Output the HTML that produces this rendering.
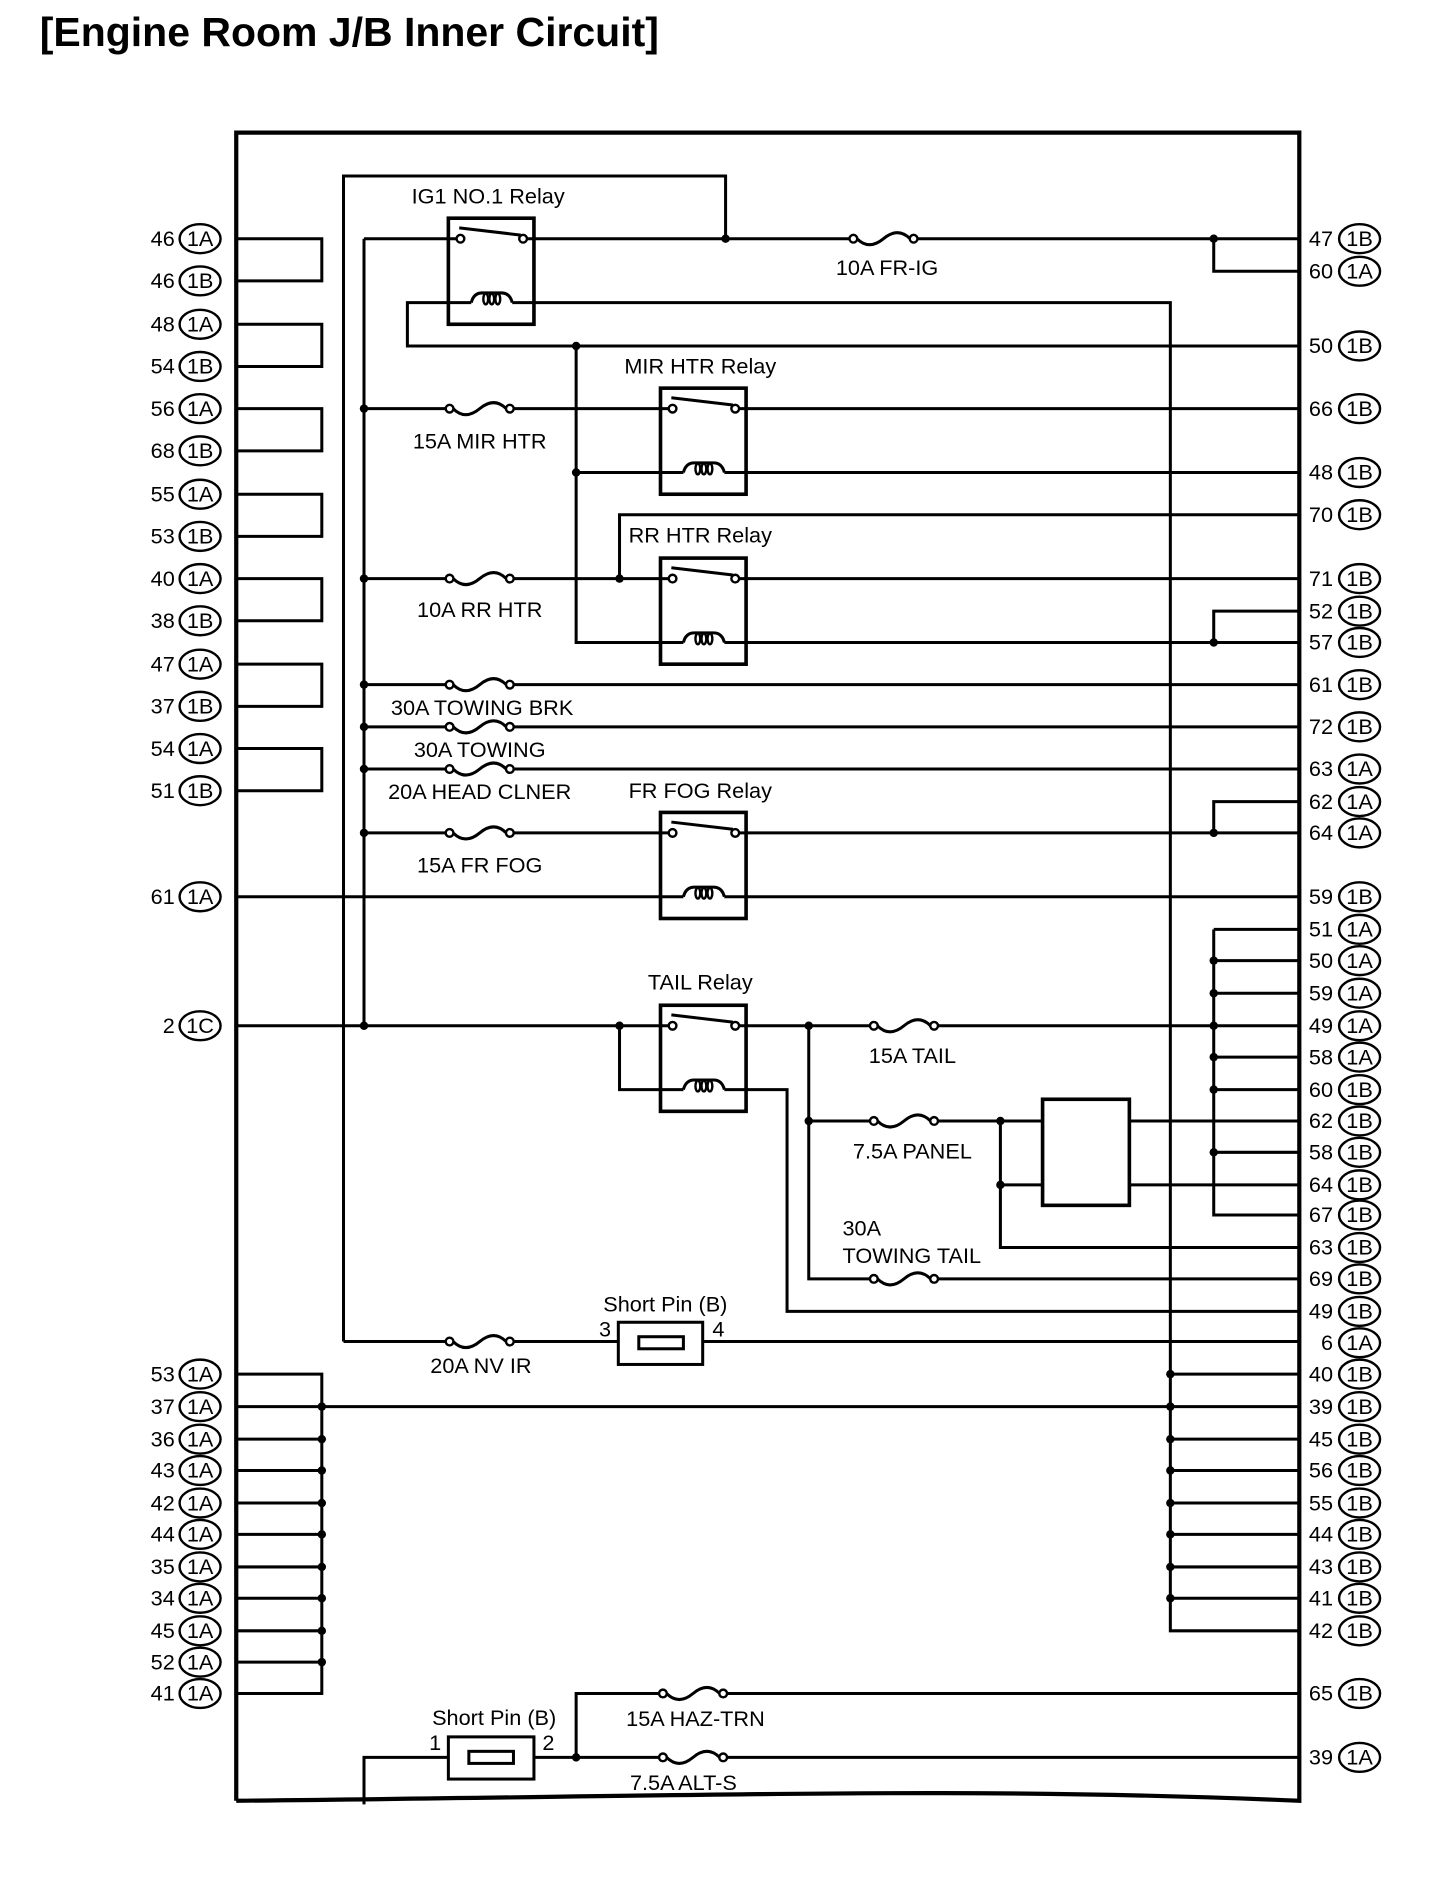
<!DOCTYPE html>
<html><head><meta charset="utf-8"><style>html,body{margin:0;padding:0;background:#fff}svg{display:block}text{font-family:"Liberation Sans",sans-serif;font-size:18px;fill:#000}</style></head><body>
<svg width="1456" height="1890" viewBox="0 0 1208 1568" xmlns="http://www.w3.org/2000/svg">
<defs>
<g id="f"><rect x="-25" y="-4" width="50" height="8" fill="#fff"/><path d="M-22,0 Q-12,10 0,0 Q12,-10 22,0" fill="none" stroke="#000" stroke-width="2.5"/><circle cx="-25" cy="0" r="3.2" fill="#fff" stroke="#000" stroke-width="2"/><circle cx="25" cy="0" r="3.2" fill="#fff" stroke="#000" stroke-width="2"/></g>
<g id="r"><rect x="0" y="0" width="71" height="88" fill="#fff" stroke="#000" stroke-width="3"/><path d="M0,17H7M65,17H71M0,70H19M53,70H71M9,8L60,14" stroke="#000" stroke-width="2.5" fill="none"/><circle cx="10" cy="17" r="3.2" fill="#fff" stroke="#000" stroke-width="2"/><circle cx="62" cy="17" r="3.2" fill="#fff" stroke="#000" stroke-width="2"/><path d="M19,70 Q21,62 28,62 L44,62 Q51,62 53,70" fill="none" stroke="#000" stroke-width="2.5"/><ellipse cx="31" cy="67" rx="2" ry="4.5" fill="none" stroke="#000" stroke-width="2"/><ellipse cx="36" cy="67" rx="2" ry="4.5" fill="none" stroke="#000" stroke-width="2"/><ellipse cx="41" cy="67" rx="2" ry="4.5" fill="none" stroke="#000" stroke-width="2"/></g>
</defs>
<text x="33" y="38" style="font-size:34px;font-weight:bold">[Engine Room J/B Inner Circuit]</text>
<path d="M196,1494 V110 H1078 V1494 C800,1482 600,1490 196,1494" fill="none" stroke="#000" stroke-width="3.5"/>
<g fill="none" stroke="#000" stroke-width="2.5">
<path d="M285,1113 V146 H602 V198 M302,198 V851 M302,198 H372 M443,198 H1078 M1007,198 V225 H1078"/>
<path d="M372,251 H338 V287 H1078 M443,251 H971 V1353 H1078"/>
<path d="M478,287 V533 H548 M619,533 H1078 M1007,533 V507 H1078"/>
<path d="M302,339 H548 M619,339 H1078 M478,392 H548 M619,392 H1078 M1078,427 H514 V480"/>
<path d="M302,480 H548 M619,480 H1078 M302,568 H1078 M302,603 H1078 M302,638 H1078"/>
<path d="M302,691 H548 M619,691 H1078 M1007,691 V665 H1078 M196,744 H548 M619,744 H1078"/>
<path d="M196,851 H548 M619,851 H1078 M514,851 V904 H548 M619,904 H653 V1088 H1078"/>
<path d="M1007,771 H1078 M1007,771 V1008 H1078 M1007,797H1078 M1007,824H1078 M1007,877H1078 M1007,904H1078 M1007,956H1078"/>
<path d="M671,851 V1061 H1078 M671,930 H865 M830,930 V1035 H1078 M830,983 H865 M937,930 H1078 M937,983 H1078"/>
<path d="M285,1113 H513 M583,1113 H1078"/>
<path d="M971,1140H1078 M971,1194H1078 M971,1220H1078 M971,1247H1078 M971,1273H1078 M971,1300H1078 M971,1326H1078 M196,1167 H1078"/>
<path d="M196,1140 H267 V1405 H196 M196,1194H267 M196,1220H267 M196,1247H267 M196,1273H267 M196,1300H267 M196,1326H267 M196,1353H267 M196,1379H267"/>
<path d="M196,198H267V233H196 M196,269H267V304H196 M196,339H267V374H196 M196,410H267V445H196 M196,480H267V515H196 M196,551H267V586H196 M196,621H267V656H196"/>
<path d="M1078,1405 H478 V1458 M1078,1458 H443 M372,1458 H302 V1497"/>
</g>
<rect x="865" y="912" width="72" height="88" fill="#fff" stroke="#000" stroke-width="3"/>
<g fill="none" stroke="#000" stroke-width="2.5"><rect x="513" y="1097" width="70" height="35"/><rect x="530" y="1109" width="37" height="10"/><rect x="372" y="1441" width="71" height="35"/><rect x="389" y="1453" width="37" height="10"/></g>
<use href="#r" x="372" y="181"/><use href="#r" x="548" y="322"/><use href="#r" x="548" y="463"/><use href="#r" x="548" y="674"/><use href="#r" x="548" y="834"/>
<use href="#f" x="733" y="198"/><use href="#f" x="398" y="339"/><use href="#f" x="398" y="480"/><use href="#f" x="398" y="568"/><use href="#f" x="398" y="603"/><use href="#f" x="398" y="638"/><use href="#f" x="398" y="691"/><use href="#f" x="750" y="851"/><use href="#f" x="750" y="930"/><use href="#f" x="750" y="1061"/><use href="#f" x="398" y="1113"/><use href="#f" x="575" y="1405"/><use href="#f" x="575" y="1458"/>
<g fill="#000">
<circle cx="602" cy="198" r="3.5"/><circle cx="1007" cy="198" r="3.5"/><circle cx="302" cy="339" r="3.5"/><circle cx="478" cy="287" r="3.5"/><circle cx="478" cy="392" r="3.5"/><circle cx="302" cy="480" r="3.5"/><circle cx="514" cy="480" r="3.5"/><circle cx="1007" cy="533" r="3.5"/><circle cx="302" cy="568" r="3.5"/><circle cx="302" cy="603" r="3.5"/><circle cx="302" cy="638" r="3.5"/><circle cx="302" cy="691" r="3.5"/><circle cx="1007" cy="691" r="3.5"/><circle cx="302" cy="851" r="3.5"/><circle cx="514" cy="851" r="3.5"/><circle cx="671" cy="851" r="3.5"/><circle cx="671" cy="930" r="3.5"/><circle cx="830" cy="930" r="3.5"/><circle cx="830" cy="983" r="3.5"/>
<circle cx="1007" cy="797" r="3.5"/><circle cx="1007" cy="824" r="3.5"/><circle cx="1007" cy="851" r="3.5"/><circle cx="1007" cy="877" r="3.5"/><circle cx="1007" cy="904" r="3.5"/><circle cx="1007" cy="956" r="3.5"/><circle cx="478" cy="1458" r="3.5"/>
<circle cx="267" cy="1167" r="3.5"/><circle cx="267" cy="1194" r="3.5"/><circle cx="267" cy="1220" r="3.5"/><circle cx="267" cy="1247" r="3.5"/><circle cx="267" cy="1273" r="3.5"/><circle cx="267" cy="1300" r="3.5"/><circle cx="267" cy="1326" r="3.5"/><circle cx="267" cy="1353" r="3.5"/><circle cx="267" cy="1379" r="3.5"/>
<circle cx="971" cy="1140" r="3.5"/><circle cx="971" cy="1167" r="3.5"/><circle cx="971" cy="1194" r="3.5"/><circle cx="971" cy="1220" r="3.5"/><circle cx="971" cy="1247" r="3.5"/><circle cx="971" cy="1273" r="3.5"/><circle cx="971" cy="1300" r="3.5"/><circle cx="971" cy="1326" r="3.5"/>
</g>
<g text-anchor="middle">
<text x="405" y="169">IG1 NO.1 Relay</text><text x="736" y="228">10A FR-IG</text><text x="581" y="310">MIR HTR Relay</text><text x="398" y="372">15A MIR HTR</text><text x="581" y="450">RR HTR Relay</text><text x="398" y="512">10A RR HTR</text><text x="400" y="593">30A TOWING BRK</text><text x="398" y="628">30A TOWING</text><text x="398" y="663">20A HEAD CLNER</text><text x="581" y="662">FR FOG Relay</text><text x="398" y="724">15A FR FOG</text><text x="581" y="821">TAIL Relay</text><text x="757" y="882">15A TAIL</text><text x="757" y="961">7.5A PANEL</text><text x="552" y="1088">Short Pin (B)</text><text x="502" y="1109">3</text><text x="596" y="1109">4</text><text x="399" y="1139">20A NV IR</text><text x="410" y="1431">Short Pin (B)</text><text x="361" y="1452">1</text><text x="455" y="1452">2</text><text x="577" y="1432">15A HAZ-TRN</text><text x="567" y="1485">7.5A ALT-S</text>
</g>
<text x="699" y="1025">30A</text><text x="699" y="1048">TOWING TAIL</text>
<g text-anchor="end">
<text x="145" y="204">46</text><text x="145" y="239">46</text><text x="145" y="275">48</text><text x="145" y="310">54</text><text x="145" y="345">56</text><text x="145" y="380">68</text><text x="145" y="416">55</text><text x="145" y="451">53</text><text x="145" y="486">40</text><text x="145" y="521">38</text><text x="145" y="557">47</text><text x="145" y="592">37</text><text x="145" y="627">54</text><text x="145" y="662">51</text><text x="145" y="750">61</text><text x="145" y="857">2</text>
<text x="145" y="1146">53</text><text x="145" y="1173">37</text><text x="145" y="1200">36</text><text x="145" y="1226">43</text><text x="145" y="1253">42</text><text x="145" y="1279">44</text><text x="145" y="1306">35</text><text x="145" y="1332">34</text><text x="145" y="1359">45</text><text x="145" y="1385">52</text><text x="145" y="1411">41</text>
<text x="1106" y="204">47</text><text x="1106" y="231">60</text><text x="1106" y="293">50</text><text x="1106" y="345">66</text><text x="1106" y="398">48</text><text x="1106" y="433">70</text><text x="1106" y="486">71</text><text x="1106" y="513">52</text><text x="1106" y="539">57</text><text x="1106" y="574">61</text><text x="1106" y="609">72</text><text x="1106" y="644">63</text><text x="1106" y="671">62</text><text x="1106" y="697">64</text><text x="1106" y="750">59</text><text x="1106" y="777">51</text><text x="1106" y="803">50</text><text x="1106" y="830">59</text><text x="1106" y="857">49</text><text x="1106" y="883">58</text><text x="1106" y="910">60</text><text x="1106" y="936">62</text><text x="1106" y="962">58</text><text x="1106" y="989">64</text><text x="1106" y="1014">67</text><text x="1106" y="1041">63</text><text x="1106" y="1067">69</text><text x="1106" y="1094">49</text><text x="1106" y="1120">6</text><text x="1106" y="1146">40</text><text x="1106" y="1173">39</text><text x="1106" y="1200">45</text><text x="1106" y="1226">56</text><text x="1106" y="1253">55</text><text x="1106" y="1279">44</text><text x="1106" y="1306">43</text><text x="1106" y="1332">41</text><text x="1106" y="1359">42</text><text x="1106" y="1411">65</text><text x="1106" y="1464">39</text>
</g>
<g fill="#fff" stroke="#000" stroke-width="2">
<ellipse cx="166" cy="198" rx="17" ry="12"/><ellipse cx="166" cy="233" rx="17" ry="12"/><ellipse cx="166" cy="269" rx="17" ry="12"/><ellipse cx="166" cy="304" rx="17" ry="12"/><ellipse cx="166" cy="339" rx="17" ry="12"/><ellipse cx="166" cy="374" rx="17" ry="12"/><ellipse cx="166" cy="410" rx="17" ry="12"/><ellipse cx="166" cy="445" rx="17" ry="12"/><ellipse cx="166" cy="480" rx="17" ry="12"/><ellipse cx="166" cy="515" rx="17" ry="12"/><ellipse cx="166" cy="551" rx="17" ry="12"/><ellipse cx="166" cy="586" rx="17" ry="12"/><ellipse cx="166" cy="621" rx="17" ry="12"/><ellipse cx="166" cy="656" rx="17" ry="12"/><ellipse cx="166" cy="744" rx="17" ry="12"/><ellipse cx="166" cy="851" rx="17" ry="12"/>
<ellipse cx="166" cy="1140" rx="17" ry="12"/><ellipse cx="166" cy="1167" rx="17" ry="12"/><ellipse cx="166" cy="1194" rx="17" ry="12"/><ellipse cx="166" cy="1220" rx="17" ry="12"/><ellipse cx="166" cy="1247" rx="17" ry="12"/><ellipse cx="166" cy="1273" rx="17" ry="12"/><ellipse cx="166" cy="1300" rx="17" ry="12"/><ellipse cx="166" cy="1326" rx="17" ry="12"/><ellipse cx="166" cy="1353" rx="17" ry="12"/><ellipse cx="166" cy="1379" rx="17" ry="12"/><ellipse cx="166" cy="1405" rx="17" ry="12"/>
<ellipse cx="1128" cy="198" rx="17" ry="12"/><ellipse cx="1128" cy="225" rx="17" ry="12"/><ellipse cx="1128" cy="287" rx="17" ry="12"/><ellipse cx="1128" cy="339" rx="17" ry="12"/><ellipse cx="1128" cy="392" rx="17" ry="12"/><ellipse cx="1128" cy="427" rx="17" ry="12"/><ellipse cx="1128" cy="480" rx="17" ry="12"/><ellipse cx="1128" cy="507" rx="17" ry="12"/><ellipse cx="1128" cy="533" rx="17" ry="12"/><ellipse cx="1128" cy="568" rx="17" ry="12"/><ellipse cx="1128" cy="603" rx="17" ry="12"/><ellipse cx="1128" cy="638" rx="17" ry="12"/><ellipse cx="1128" cy="665" rx="17" ry="12"/><ellipse cx="1128" cy="691" rx="17" ry="12"/><ellipse cx="1128" cy="744" rx="17" ry="12"/><ellipse cx="1128" cy="771" rx="17" ry="12"/><ellipse cx="1128" cy="797" rx="17" ry="12"/><ellipse cx="1128" cy="824" rx="17" ry="12"/><ellipse cx="1128" cy="851" rx="17" ry="12"/><ellipse cx="1128" cy="877" rx="17" ry="12"/><ellipse cx="1128" cy="904" rx="17" ry="12"/><ellipse cx="1128" cy="930" rx="17" ry="12"/><ellipse cx="1128" cy="956" rx="17" ry="12"/><ellipse cx="1128" cy="983" rx="17" ry="12"/><ellipse cx="1128" cy="1008" rx="17" ry="12"/><ellipse cx="1128" cy="1035" rx="17" ry="12"/><ellipse cx="1128" cy="1061" rx="17" ry="12"/><ellipse cx="1128" cy="1088" rx="17" ry="12"/><ellipse cx="1128" cy="1114" rx="17" ry="12"/><ellipse cx="1128" cy="1140" rx="17" ry="12"/><ellipse cx="1128" cy="1167" rx="17" ry="12"/><ellipse cx="1128" cy="1194" rx="17" ry="12"/><ellipse cx="1128" cy="1220" rx="17" ry="12"/><ellipse cx="1128" cy="1247" rx="17" ry="12"/><ellipse cx="1128" cy="1273" rx="17" ry="12"/><ellipse cx="1128" cy="1300" rx="17" ry="12"/><ellipse cx="1128" cy="1326" rx="17" ry="12"/><ellipse cx="1128" cy="1353" rx="17" ry="12"/><ellipse cx="1128" cy="1405" rx="17" ry="12"/><ellipse cx="1128" cy="1458" rx="17" ry="12"/>
</g>
<g text-anchor="middle">
<text x="166" y="204">1A</text><text x="166" y="239">1B</text><text x="166" y="275">1A</text><text x="166" y="310">1B</text><text x="166" y="345">1A</text><text x="166" y="380">1B</text><text x="166" y="416">1A</text><text x="166" y="451">1B</text><text x="166" y="486">1A</text><text x="166" y="521">1B</text><text x="166" y="557">1A</text><text x="166" y="592">1B</text><text x="166" y="627">1A</text><text x="166" y="662">1B</text><text x="166" y="750">1A</text><text x="166" y="857">1C</text>
<text x="166" y="1146">1A</text><text x="166" y="1173">1A</text><text x="166" y="1200">1A</text><text x="166" y="1226">1A</text><text x="166" y="1253">1A</text><text x="166" y="1279">1A</text><text x="166" y="1306">1A</text><text x="166" y="1332">1A</text><text x="166" y="1359">1A</text><text x="166" y="1385">1A</text><text x="166" y="1411">1A</text>
<text x="1128" y="204">1B</text><text x="1128" y="231">1A</text><text x="1128" y="293">1B</text><text x="1128" y="345">1B</text><text x="1128" y="398">1B</text><text x="1128" y="433">1B</text><text x="1128" y="486">1B</text><text x="1128" y="513">1B</text><text x="1128" y="539">1B</text><text x="1128" y="574">1B</text><text x="1128" y="609">1B</text><text x="1128" y="644">1A</text><text x="1128" y="671">1A</text><text x="1128" y="697">1A</text><text x="1128" y="750">1B</text><text x="1128" y="777">1A</text><text x="1128" y="803">1A</text><text x="1128" y="830">1A</text><text x="1128" y="857">1A</text><text x="1128" y="883">1A</text><text x="1128" y="910">1B</text><text x="1128" y="936">1B</text><text x="1128" y="962">1B</text><text x="1128" y="989">1B</text><text x="1128" y="1014">1B</text><text x="1128" y="1041">1B</text><text x="1128" y="1067">1B</text><text x="1128" y="1094">1B</text><text x="1128" y="1120">1A</text><text x="1128" y="1146">1B</text><text x="1128" y="1173">1B</text><text x="1128" y="1200">1B</text><text x="1128" y="1226">1B</text><text x="1128" y="1253">1B</text><text x="1128" y="1279">1B</text><text x="1128" y="1306">1B</text><text x="1128" y="1332">1B</text><text x="1128" y="1359">1B</text><text x="1128" y="1411">1B</text><text x="1128" y="1464">1A</text>
</g>
</svg>
</body></html>
